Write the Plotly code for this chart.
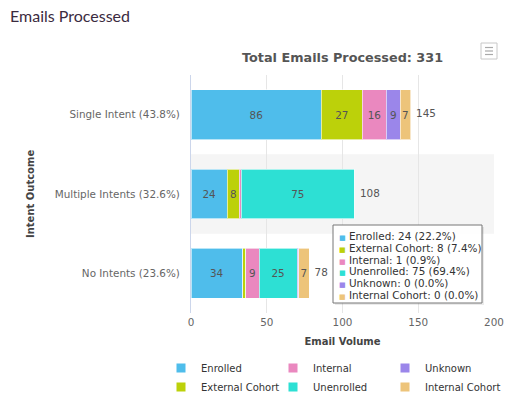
import plotly.graph_objects as go

categories = ["Single Intent", "Multiple Intents", "No Intents"]
series_names = ["Enrolled", "External Cohort", "Internal", "Unenrolled", "Unknown", "Internal Cohort"]
enrolled = [86, 24, 34]
external_cohort = [27, 8, 2]
internal = [16, 1, 9]
unenrolled = [0, 75, 25]
unknown = [9, 0, 1]
internal_cohort = [7, 0, 7]
colors = ["#4fbdeb", "#bcd10a", "#ea88bf", "#2de0d4", "#9b86ea", "#edc47a"]
legend_ids = ["legend", "legend", "legend2", "legend2", "legend3", "legend3"]
x_ticks = [0, 50, 100, 150, 200]
tooltip_category = 1

series_values = [enrolled, external_cohort, internal, unenrolled, unknown, internal_cohort]
totals = [sum(v[i] for v in series_values) for i in range(len(categories))]
grand_total = sum(totals)
cat_labels = [f"{c} ({t / grand_total * 100:.1f}%)" for c, t in zip(categories, totals)]

FONT = "DejaVu Sans, Verdana, sans-serif"
W, H = 526, 414
ML, MR, MT, MB = 191, 32, 75, 101
PW, PH = W - ML - MR, H - MT - MB


def px_x(px):
    return (px - ML) / PW


def px_y(py):
    return (H - MB - py) / PH


fig = go.Figure()
for name, vals, col, lg in zip(series_names, series_values, colors, legend_ids):
    fig.add_trace(go.Bar(
        name=name, x=vals, y=cat_labels, orientation="h",
        marker=dict(color=col, line=dict(color="rgba(255,255,255,0.6)", width=1)),
        text=[str(v) if v >= 5 else "" for v in vals],
        textposition="inside", insidetextanchor="middle", textangle=0,
        constraintext="none",
        insidetextfont=dict(family=FONT, size=10.4, color="#555"),
        legendgroup=name, showlegend=False, hoverinfo="skip",
    ))
    # legend entry
    fig.add_trace(go.Scatter(
        x=[None], y=[None], mode="markers", name=name, legendgroup=name, legend=lg,
        marker=dict(symbol="square", size=9, color=col), hoverinfo="skip",
    ))

fig.add_trace(go.Scatter(
    x=totals, y=cat_labels, mode="markers+text", text=[str(t) for t in totals],
    marker=dict(size=7, color="rgba(0,0,0,0)"),
    textposition="middle right", textfont=dict(family=FONT, size=10.4, color="#555"),
    showlegend=False, hoverinfo="skip", cliponaxis=False,
))

# alternate band behind the middle category
fig.add_shape(type="rect", xref="paper", yref="y", x0=0, x1=1, y0=0.5, y1=1.5,
              fillcolor="#f5f5f5", line=dict(width=0), layer="below")

# tooltip-like box for the middle category
tc = tooltip_category
box_l, box_r, box_t, box_b = 333, 482, 225, 303
fig.add_shape(type="rect", xref="paper", yref="paper",
              x0=px_x(box_l + 2), x1=px_x(box_r + 2), y0=px_y(box_b + 2), y1=px_y(box_t + 2),
              fillcolor="rgba(0,0,0,0.08)", line=dict(width=0), layer="above")
fig.add_shape(type="rect", xref="paper", yref="paper",
              x0=px_x(box_l), x1=px_x(box_r), y0=px_y(box_b), y1=px_y(box_t),
              fillcolor="rgba(255,255,255,0.97)", line=dict(color="#777", width=1), layer="above")
for i, (name, vals, col) in enumerate(zip(series_names, series_values, colors)):
    v = vals[tc]
    pct = v / totals[tc] * 100
    fig.add_annotation(
        xref="paper", yref="paper", x=px_x(337), y=px_y(235.7 + 11.9 * i),
        xanchor="left", yanchor="middle", showarrow=False,
        text=f"<span style='color:{col};font-size:7px'>■</span> {name}: {v} ({pct:.1f}%)",
        font=dict(family=FONT, size=10.4, color="#333"),
    )

fig.add_annotation(
    xref="paper", yref="paper", x=px_x(30), y=0.5, xanchor="center", yanchor="middle",
    text="<b>Intent Outcome</b>", textangle=-90, showarrow=False,
    font=dict(family=FONT, size=10, color="#444"),
)
fig.add_annotation(
    xref="paper", yref="paper", x=0.5, y=px_y(57), xanchor="center", yanchor="middle",
    text="<b>Total Emails Processed: %d</b>" % grand_total, showarrow=False,
    font=dict(family=FONT, size=12.8, color="#555"),
)

# export menu button
fig.add_shape(type="rect", xref="paper", yref="paper",
              x0=px_x(481), x1=px_x(497), y0=px_y(59), y1=px_y(43),
              fillcolor="white", line=dict(color="#c8c8c8", width=1), layer="above")
for yy in (47.5, 51, 54.5):
    fig.add_shape(type="line", xref="paper", yref="paper",
                  x0=px_x(485), x1=px_x(493), y0=px_y(yy), y1=px_y(yy),
                  line=dict(color="#aaa", width=1.2), layer="above")

leg_common = dict(orientation="v", xanchor="left", yanchor="top", y=-0.17,
                  traceorder="normal", indentation=-10,
                  font=dict(family=FONT, size=10, color="#333"),
                  bgcolor="rgba(0,0,0,0)", borderwidth=0, tracegroupgap=0)

fig.update_layout(
    width=W, height=H,
    margin=dict(l=ML, r=MR, t=MT, b=MB),
    paper_bgcolor="white", plot_bgcolor="white",
    barmode="stack", bargap=0.37,
    title=dict(text="Emails Processed", x=10 / W, xref="container", xanchor="left",
               y=1 - 16 / H, yref="container", yanchor="middle",
               font=dict(family="Lato, Open Sans, sans-serif", size=16, color="#3b2b3f")),
    legend=dict(x=px_x(171), **leg_common),
    legend2=dict(x=px_x(283), **leg_common),
    legend3=dict(x=px_x(395), **leg_common),
    xaxis=dict(range=[0, 200], tickvals=x_ticks, showgrid=True, gridcolor="#e6e6e6",
               zeroline=False, showline=False, ticks="", ticklabelstandoff=2,
               tickfont=dict(family=FONT, size=10.4, color="#666"),
               title=dict(text="<b>Email Volume</b>", standoff=10,
                          font=dict(family=FONT, size=10, color="#444"))),
    yaxis=dict(autorange="reversed", showgrid=False, zeroline=False,
               showline=True, linecolor="#ccd6eb", linewidth=1, ticks="",
               ticklabelstandoff=8, tickfont=dict(family=FONT, size=10.4, color="#666")),
    showlegend=True,
)

fig.write_html("out.html")
